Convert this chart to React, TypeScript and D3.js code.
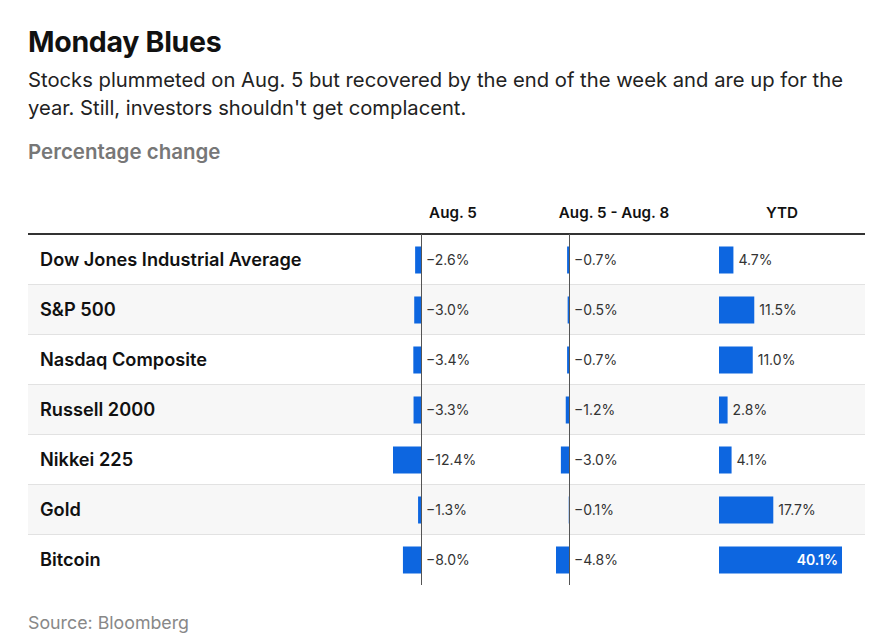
import React from "react";
import * as d3 from "d3";

const categories = [
  "Dow Jones Industrial Average",
  "S&P 500",
  "Nasdaq Composite",
  "Russell 2000",
  "Nikkei 225",
  "Gold",
  "Bitcoin",
];
const aug5 = [-2.6, -3.0, -3.4, -3.3, -12.4, -1.3, -8.0];
const aug5to8 = [-0.7, -0.5, -0.7, -1.2, -3.0, -0.1, -4.8];
const ytd = [4.7, 11.5, 11.0, 2.8, 4.1, 17.7, 40.1];
const columnHeaders = ["Aug. 5", "Aug. 5 - Aug. 8", "YTD"];

const W = 878;
const H = 640;
const FONT = "Inter, 'Noto Sans', sans-serif";
const BLUE = "#0d66e0";

export default function App() {
  const left = 28;
  const right = 865;
  const headerLineY = 234;
  const rowH = 50;
  const y = d3
    .scaleBand<string>()
    .domain(categories)
    .range([headerLineY + 1, headerLineY + 1 + rowH * categories.length])
    .paddingInner(0);
  const barH = 27;

  const x1 = d3.scaleLinear().domain([-12.4, 0]).range([393, 421]);
  const x2 = d3.scaleLinear().domain([-4.8, 0]).range([556, 569]);
  const x3 = d3.scaleLinear().domain([0, 40.1]).range([719, 842]);

  const fmt = (v: number) => (v < 0 ? "\u2212" : "") + Math.abs(v).toFixed(1) + "%";

  const bottom = headerLineY + 1 + rowH * categories.length;

  return (
    <svg width={W} height={H} style={{ display: "block", position: "absolute", left: 0, top: 0 }}>
      <rect width={W} height={H} fill="#fff" />
      <text x={left} y={52} fontFamily={FONT} fontWeight={700} fontSize={28.5} fill="#111" letterSpacing={-0.3}>
        Monday Blues
      </text>
      <text x={left} y={87} fontFamily={FONT} fontSize={20.2} fill="#222" textLength={815} lengthAdjust="spacingAndGlyphs">
        Stocks plummeted on Aug. 5 but recovered by the end of the week and are up for the
      </text>
      <text x={left} y={115} fontFamily={FONT} fontSize={20.2} fill="#222">
        year. Still, investors shouldn't get complacent.
      </text>
      <text x={left} y={159} fontFamily={FONT} fontWeight={600} fontSize={20.5} fill="#777">
        Percentage change
      </text>

      {[453, 614, 782].map((cx, i) => (
        <text key={i} x={cx} y={218} textAnchor="middle" fontFamily={FONT} fontWeight={600} fontSize={15.2} fill="#111">
          {columnHeaders[i]}
        </text>
      ))}

      {categories.map((c, i) => (
        <g key={c}>
          {i % 2 === 1 && <rect x={left} y={y(c)!} width={right - left} height={rowH} fill="#f7f7f7" />}
          {i < categories.length - 1 && (
            <line x1={left} x2={right} y1={y(c)! + rowH - 0.5} y2={y(c)! + rowH - 0.5} stroke="#e2e2e2" />
          )}
        </g>
      ))}

      <line x1={left} x2={right} y1={headerLineY} y2={headerLineY} stroke="#333" strokeWidth={2} />

      {categories.map((c, i) => {
        const cy = y(c)! + rowH / 2;
        const by = cy - barH / 2;
        const ytdW = x3(ytd[i]) - x3(0);
        const inside = ytdW > 80;
        return (
          <g key={c}>
            <text x={40} y={cy + 6} fontFamily={FONT} fontWeight={600} fontSize={18.2} fill="#111">
              {c}
            </text>
            <rect x={x1(aug5[i])} y={by} width={x1(0) - x1(aug5[i])} height={barH} fill={BLUE} />
            <text x={x1(0) + 5} y={cy + 5} fontFamily={FONT} fontSize={14} fill="#333">
              {fmt(aug5[i])}
            </text>
            <rect x={x2(aug5to8[i])} y={by} width={x2(0) - x2(aug5to8[i])} height={barH} fill={BLUE} />
            <text x={x2(0) + 5} y={cy + 5} fontFamily={FONT} fontSize={14} fill="#333">
              {fmt(aug5to8[i])}
            </text>
            <rect x={x3(0)} y={by} width={ytdW} height={barH} fill={BLUE} />
            <text
              x={inside ? x3(ytd[i]) - 4 : x3(ytd[i]) + 5}
              y={cy + 5}
              textAnchor={inside ? "end" : "start"}
              fontFamily={FONT}
              fontWeight={inside ? 600 : 400}
              fontSize={14}
              fill={inside ? "#fff" : "#333"}
            >
              {fmt(ytd[i])}
            </text>
          </g>
        );
      })}

      <line x1={x1(0) + 0.5} x2={x1(0) + 0.5} y1={headerLineY} y2={bottom} stroke="#555" strokeWidth={1} />
      <line x1={x2(0) + 0.5} x2={x2(0) + 0.5} y1={headerLineY} y2={bottom} stroke="#555" strokeWidth={1} />

      <text x={left} y={629} fontFamily={FONT} fontSize={17.8} fill="#888">
        Source: Bloomberg
      </text>
    </svg>
  );
}
